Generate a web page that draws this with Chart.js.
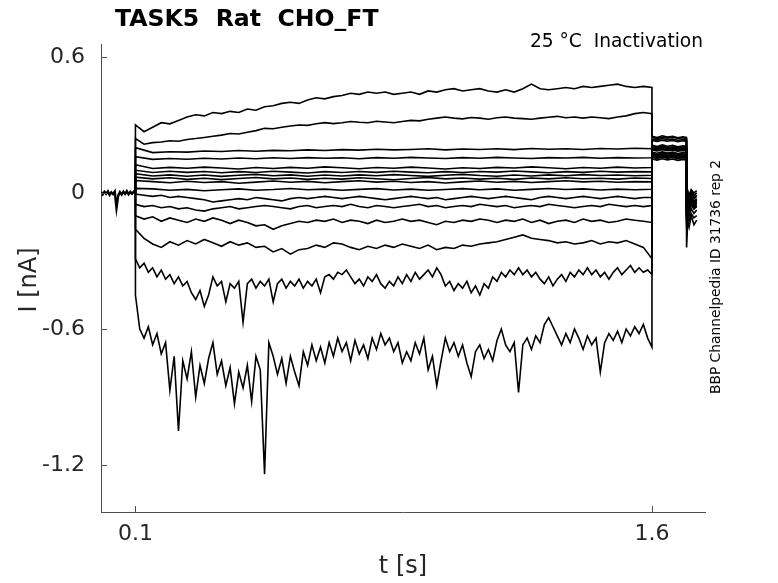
<!DOCTYPE html>
<html>
<head>
<meta charset="utf-8">
<script src="https://cdn.jsdelivr.net/npm/chart.js@4/dist/chart.umd.min.js"></script>
<style>
  html, body { margin: 0; padding: 0; background: #fff; }
  #wrap { width: 778px; height: 583px; }
</style>
</head>
<body>
<div id="wrap"><canvas id="chart" width="778" height="583"></canvas></div>
<script>
// ---- data (current in nA) ----
const xTicks = [0.1, 1.6];
const yTicks = [-1.2, -0.6, 0, 0.6];

// holding period before the step, 0 .. 0.1 s every 5 ms
const holdValues = [0.004, -0.006, 0.005, -0.004, 0.007, -0.008, 0.003, -0.005, 0.006, -0.066,
  -0.012, 0.004, -0.007, 0.006, -0.004, 0.008, -0.006, 0.005, -0.003, 0.006, 0.0];

// step sweeps, 0.1 .. 1.6 s (coarse = 50 ms, mid = 25 ms, fine = 12.5 ms sampling)
const sweepA = [0.30, 0.27, 0.29, 0.31, 0.305, 0.32, 0.335, 0.345, 0.34, 0.355,
  0.35, 0.36, 0.355, 0.37, 0.365, 0.38, 0.385, 0.395, 0.40, 0.395,
  0.41, 0.42, 0.415, 0.425, 0.43, 0.44, 0.435, 0.445, 0.44, 0.445,
  0.435, 0.44, 0.445, 0.435, 0.45, 0.445, 0.455, 0.46, 0.45, 0.455,
  0.46, 0.45, 0.445, 0.455, 0.445, 0.46, 0.48, 0.46, 0.455, 0.46,
  0.465, 0.46, 0.47, 0.465, 0.47, 0.475, 0.48, 0.47, 0.465, 0.47, 0.465];
const sweepB = [0.24, 0.215, 0.222, 0.225, 0.23, 0.228, 0.236, 0.24, 0.245, 0.25,
  0.255, 0.262, 0.26, 0.268, 0.275, 0.285, 0.283, 0.29, 0.295, 0.30,
  0.298, 0.305, 0.31, 0.306, 0.31, 0.315, 0.312, 0.31, 0.316, 0.313,
  0.31, 0.315, 0.32, 0.318, 0.325, 0.33, 0.335, 0.33, 0.327, 0.333,
  0.33, 0.325, 0.332, 0.335, 0.33, 0.328, 0.325, 0.33, 0.334, 0.338,
  0.332, 0.335, 0.33, 0.335, 0.332, 0.328, 0.335, 0.34, 0.35, 0.355, 0.35];
const sweepC = [0.20, 0.178, 0.182, 0.18, 0.185, 0.183, 0.187, 0.184, 0.188, 0.186,
  0.19, 0.187, 0.191, 0.189, 0.193, 0.19, 0.192, 0.195, 0.19, 0.194,
  0.192, 0.195, 0.191, 0.196, 0.193, 0.195, 0.192, 0.196, 0.194, 0.197, 0.195];
const sweepD = [0.16, 0.148, 0.152, 0.149, 0.153, 0.15, 0.154, 0.151, 0.155, 0.152,
  0.156, 0.153, 0.155, 0.151, 0.156, 0.153, 0.157, 0.154, 0.152, 0.156,
  0.153, 0.157, 0.154, 0.152, 0.156, 0.154, 0.157, 0.153, 0.156, 0.154, 0.155];
const sweepE = [0.125, 0.108, 0.113, 0.109, 0.114, 0.11, 0.106, 0.112, 0.108, 0.113,
  0.109, 0.115, 0.111, 0.107, 0.112, 0.109, 0.114, 0.11, 0.106, 0.111,
  0.108, 0.113, 0.11, 0.115, 0.111, 0.107, 0.112, 0.109, 0.114, 0.11, 0.112];
const sweepF = [0.1, 0.09, 0.096, 0.091, 0.095, 0.089, 0.094, 0.09, 0.096, 0.092,
  0.088, 0.094, 0.09, 0.095, 0.091, 0.096, 0.092, 0.089, 0.094, 0.09,
  0.095, 0.092, 0.097, 0.093, 0.089, 0.094, 0.091, 0.096, 0.092, 0.094, 0.093];
const sweepG = [0.085, 0.075, 0.08, 0.074, 0.079, 0.073, 0.078, 0.082, 0.076, 0.08,
  0.074, 0.079, 0.075, 0.08, 0.076, 0.081, 0.077, 0.073, 0.078, 0.082,
  0.077, 0.074, 0.079, 0.075, 0.08, 0.076, 0.081, 0.077, 0.079, 0.076, 0.078];
const sweepH = [0.07, 0.062, 0.067, 0.06, 0.065, 0.059, 0.064, 0.068, 0.062, 0.066,
  0.06, 0.065, 0.061, 0.067, 0.063, 0.058, 0.064, 0.068, 0.062, 0.066,
  0.061, 0.065, 0.06, 0.066, 0.062, 0.067, 0.063, 0.065, 0.061, 0.066, 0.064];
const sweepI = [0.055, 0.05, 0.045, 0.052, 0.046, 0.05, 0.043, 0.048, 0.053, 0.047,
  0.051, 0.045, 0.05, 0.054, 0.048, 0.052, 0.046, 0.05, 0.044, 0.049,
  0.053, 0.047, 0.051, 0.046, 0.05, 0.054, 0.049, 0.052, 0.047, 0.05, 0.049];
const sweepJ = [0.02, 0.018, 0.012, 0.016, 0.01, 0.014, 0.018, 0.012, 0.015, 0.02,
  0.014, 0.017, 0.012, 0.016, 0.019, 0.013, 0.017, 0.012, 0.015, 0.019,
  0.014, 0.018, 0.012, 0.016, 0.02, 0.015, 0.018, 0.013, 0.017, 0.014, 0.016];
const sweepK = [-0.005, -0.01, -0.015, -0.01, -0.02, -0.015, -0.02, -0.025, -0.03, -0.04,
  -0.035, -0.03, -0.025, -0.03, -0.02, -0.025, -0.03, -0.035, -0.025, -0.02,
  -0.025, -0.02, -0.015, -0.02, -0.025, -0.02, -0.015, -0.02, -0.025, -0.03,
  -0.025, -0.02, -0.015, -0.02, -0.025, -0.02, -0.03, -0.025, -0.02, -0.015,
  -0.02, -0.025, -0.02, -0.015, -0.02, -0.025, -0.03, -0.02, -0.015, -0.02,
  -0.025, -0.02, -0.015, -0.02, -0.025, -0.02, -0.015, -0.02, -0.025, -0.02, -0.02];
const sweepL = [-0.05, -0.06, -0.055, -0.065, -0.06, -0.07, -0.065, -0.075, -0.08, -0.07,
  -0.065, -0.06, -0.07, -0.065, -0.06, -0.055, -0.06, -0.065, -0.07, -0.06,
  -0.055, -0.065, -0.06, -0.055, -0.06, -0.05, -0.06, -0.065, -0.055, -0.06,
  -0.065, -0.06, -0.055, -0.05, -0.06, -0.055, -0.065, -0.06, -0.055, -0.06,
  -0.05, -0.055, -0.06, -0.055, -0.065, -0.06, -0.055, -0.06, -0.05, -0.055,
  -0.06, -0.065, -0.06, -0.055, -0.06, -0.05, -0.055, -0.06, -0.055, -0.06, -0.055];
const sweepM = [-0.10, -0.115, -0.105, -0.125, -0.11, -0.12, -0.13, -0.115, -0.125, -0.11,
  -0.12, -0.135, -0.12, -0.13, -0.145, -0.14, -0.16, -0.145, -0.135, -0.125,
  -0.13, -0.12, -0.125, -0.115, -0.13, -0.12, -0.125, -0.135, -0.12, -0.13,
  -0.125, -0.115, -0.125, -0.12, -0.13, -0.14, -0.125, -0.13, -0.12, -0.125,
  -0.115, -0.12, -0.13, -0.12, -0.125, -0.115, -0.13, -0.12, -0.135, -0.125,
  -0.12, -0.13, -0.115, -0.125, -0.12, -0.13, -0.125, -0.115, -0.12, -0.125, -0.13];
const sweepN = [-0.16, -0.20, -0.225, -0.24, -0.215, -0.23, -0.21, -0.225, -0.205, -0.22,
  -0.235, -0.215, -0.23, -0.22, -0.24, -0.235, -0.26, -0.245, -0.27, -0.25,
  -0.245, -0.23, -0.24, -0.22, -0.225, -0.24, -0.25, -0.235, -0.245, -0.23,
  -0.24, -0.225, -0.235, -0.245, -0.23, -0.25, -0.24, -0.245, -0.23, -0.235,
  -0.225, -0.22, -0.215, -0.205, -0.195, -0.185, -0.2, -0.205, -0.21, -0.22,
  -0.215, -0.225, -0.22, -0.21, -0.225, -0.215, -0.22, -0.21, -0.225, -0.24, -0.29];
const sweepO = [-0.29, -0.33, -0.31, -0.35, -0.33, -0.37, -0.34, -0.38, -0.36, -0.40,
  -0.37, -0.41, -0.39, -0.44, -0.47, -0.43, -0.50, -0.45, -0.37, -0.41,
  -0.39, -0.48, -0.40, -0.42, -0.39, -0.57, -0.40, -0.38, -0.42, -0.39,
  -0.41, -0.38, -0.48, -0.40, -0.38, -0.42, -0.39, -0.41, -0.38, -0.42,
  -0.39, -0.41, -0.38, -0.44, -0.37, -0.36, -0.38, -0.35, -0.36, -0.34,
  -0.37, -0.40, -0.38, -0.41, -0.37, -0.39, -0.36, -0.40, -0.42, -0.39,
  -0.41, -0.37, -0.40, -0.36, -0.39, -0.35, -0.38, -0.36, -0.34, -0.37,
  -0.33, -0.36, -0.41, -0.39, -0.43, -0.40, -0.42, -0.39, -0.44, -0.41,
  -0.45, -0.40, -0.42, -0.37, -0.39, -0.35, -0.37, -0.34, -0.36, -0.33,
  -0.36, -0.34, -0.37, -0.35, -0.38, -0.40, -0.37, -0.41, -0.38, -0.36,
  -0.39, -0.35, -0.37, -0.34, -0.36, -0.33, -0.36, -0.34, -0.37, -0.35,
  -0.38, -0.35, -0.33, -0.36, -0.34, -0.32, -0.35, -0.33, -0.35, -0.34, -0.36];
const sweepP = [-0.45, -0.60, -0.64, -0.59, -0.67, -0.62, -0.71, -0.66, -0.87, -0.72,
  -1.05, -0.74, -0.82, -0.70, -0.90, -0.76, -0.84, -0.73, -0.66, -0.80,
  -0.74, -0.85, -0.77, -0.93, -0.79, -0.86, -0.76, -0.92, -0.72, -0.78,
  -1.24, -0.66, -0.72, -0.80, -0.73, -0.84, -0.72, -0.79, -0.85, -0.70,
  -0.76, -0.67, -0.74, -0.68, -0.75, -0.66, -0.72, -0.64, -0.70, -0.66,
  -0.74, -0.65, -0.71, -0.67, -0.73, -0.64, -0.69, -0.62, -0.67, -0.64,
  -0.70, -0.66, -0.75, -0.70, -0.74, -0.66, -0.71, -0.64, -0.78, -0.72,
  -0.85, -0.74, -0.64, -0.70, -0.66, -0.72, -0.67, -0.75, -0.81, -0.70,
  -0.67, -0.73, -0.69, -0.74, -0.65, -0.60, -0.67, -0.70, -0.66, -0.88,
  -0.67, -0.64, -0.69, -0.63, -0.66, -0.58, -0.55, -0.59, -0.63, -0.67,
  -0.62, -0.66, -0.60, -0.64, -0.69, -0.63, -0.67, -0.64, -0.79, -0.66,
  -0.62, -0.65, -0.61, -0.66, -0.60, -0.63, -0.59, -0.62, -0.58, -0.64, -0.68];

// tail after the step: test level up to 1.7 s, then return to holding
const tailTimes = [1.6, 1.615, 1.63, 1.645, 1.66, 1.675, 1.69, 1.7, 1.7005, 1.704, 1.708, 1.714, 1.722, 1.73];
const tailValues = [
  [0.25, 0.245, 0.252, 0.247, 0.25, 0.243, 0.248, 0.245, -0.04, 0.01, -0.01, 0.015, 0.0, 0.01],
  [0.245, 0.24, 0.247, 0.242, 0.246, 0.24, 0.244, 0.24, -0.05, 0.0, -0.02, 0.01, -0.01, 0.0],
  [0.238, 0.233, 0.24, 0.235, 0.238, 0.232, 0.236, 0.233, -0.06, -0.01, -0.03, 0.0, -0.02, -0.01],
  [0.232, 0.227, 0.233, 0.228, 0.232, 0.226, 0.23, 0.227, -0.07, -0.02, -0.035, -0.01, -0.025, -0.015],
  [0.21, 0.205, 0.212, 0.206, 0.21, 0.204, 0.208, 0.205, -0.08, -0.03, -0.045, -0.02, -0.035, -0.025],
  [0.205, 0.2, 0.206, 0.2, 0.204, 0.199, 0.203, 0.2, -0.09, -0.035, -0.05, -0.025, -0.04, -0.03],
  [0.2, 0.195, 0.201, 0.196, 0.2, 0.194, 0.198, 0.195, -0.085, -0.03, -0.05, -0.02, -0.04, -0.03],
  [0.195, 0.19, 0.196, 0.191, 0.195, 0.189, 0.193, 0.19, -0.1, -0.045, -0.06, -0.035, -0.05, -0.04],
  [0.19, 0.185, 0.191, 0.186, 0.19, 0.184, 0.188, 0.185, -0.095, -0.04, -0.055, -0.03, -0.045, -0.035],
  [0.18, 0.175, 0.181, 0.176, 0.18, 0.174, 0.178, 0.175, -0.11, -0.055, -0.07, -0.045, -0.06, -0.05],
  [0.175, 0.17, 0.176, 0.171, 0.175, 0.169, 0.173, 0.17, -0.1, -0.05, -0.065, -0.04, -0.055, -0.045],
  [0.17, 0.165, 0.171, 0.166, 0.17, 0.164, 0.168, 0.165, -0.12, -0.065, -0.08, -0.055, -0.07, -0.06],
  [0.165, 0.16, 0.166, 0.161, 0.165, 0.159, 0.163, 0.16, -0.12, -0.06, -0.08, -0.05, -0.07, -0.055],
  [0.16, 0.155, 0.161, 0.156, 0.16, 0.154, 0.158, 0.155, -0.14, -0.08, -0.1, -0.07, -0.09, -0.075],
  [0.157, 0.152, 0.158, 0.153, 0.157, 0.151, 0.155, 0.152, -0.16, -0.1, -0.12, -0.09, -0.11, -0.1],
  [0.15, 0.145, 0.151, 0.146, 0.15, 0.144, 0.148, 0.145, -0.24, -0.12, -0.15, -0.1, -0.14, -0.12]
];

const titleText = "TASK5  Rat  CHO_FT";
const conditionText = "25 °C  Inactivation";
const sourceText = "BBP Channelpedia ID 31736 rep 2";

// ---- sample clocks ----
function sampleTimes(start, step, count) {
  const out = [];
  for (let i = 0; i < count; i++) out.push(+(start + i * step).toFixed(5));
  return out;
}
const holdTimes = sampleTimes(0, 0.005, 21);
const coarseTimes = sampleTimes(0.1, 0.05, 31);
const midTimes = sampleTimes(0.1, 0.025, 61);
const fineTimes = sampleTimes(0.1, 0.0125, 121);

const sweeps = [
  [midTimes, sweepA], [midTimes, sweepB], [coarseTimes, sweepC], [coarseTimes, sweepD],
  [coarseTimes, sweepE], [coarseTimes, sweepF], [coarseTimes, sweepG], [coarseTimes, sweepH],
  [coarseTimes, sweepI], [coarseTimes, sweepJ], [midTimes, sweepK], [midTimes, sweepL],
  [midTimes, sweepM], [midTimes, sweepN], [fineTimes, sweepO], [fineTimes, sweepP]
];

const holdEnd = holdValues[holdValues.length - 1];
const datasets = [{
  data: holdTimes.map((t, i) => ({ x: t, y: holdValues[i] })),
  borderColor: "#000", borderWidth: 2.4, pointRadius: 0
}];
sweeps.forEach(([times, values], k) => {
  const pts = [{ x: 0.1, y: holdEnd }];
  times.forEach((t, i) => pts.push({ x: t, y: values[i] }));
  tailTimes.forEach((t, i) => pts.push({ x: t, y: tailValues[k][i] }));
  datasets.push({ data: pts, borderColor: "#000", borderWidth: 1.6, pointRadius: 0 });
});

const axisColor = "#4d4d4d";
const textColor = "#262626";
const fontFamily = '"DejaVu Sans", sans-serif';

const decorations = {
  id: "decorations",
  afterDraw(chart) {
    const { ctx, chartArea, scales } = chart;
    ctx.save();
    ctx.strokeStyle = axisColor;
    ctx.lineWidth = 1;
    yTicks.forEach(v => {
      const py = Math.round(scales.y.getPixelForValue(v)) + 0.5;
      ctx.beginPath();
      ctx.moveTo(chartArea.left, py);
      ctx.lineTo(chartArea.left + 6, py);
      ctx.stroke();
    });
    xTicks.forEach(v => {
      const px = Math.round(scales.x.getPixelForValue(v)) + 0.5;
      ctx.beginPath();
      ctx.moveTo(px, chartArea.bottom);
      ctx.lineTo(px, chartArea.bottom - 6);
      ctx.stroke();
    });

    ctx.fillStyle = "#000";
    ctx.textBaseline = "alphabetic";
    ctx.textAlign = "left";
    ctx.font = "bold 23.6px " + fontFamily;
    ctx.fillText(titleText, 115, 26);

    ctx.textAlign = "right";
    ctx.font = "18.6px " + fontFamily;
    ctx.fillText(conditionText, 703, 47);

    ctx.fillStyle = textColor;
    ctx.textAlign = "center";
    ctx.textBaseline = "middle";
    ctx.font = "24px " + fontFamily;
    ctx.fillText("t [s]", 403, 567);

    ctx.save();
    ctx.translate(30, 280);
    ctx.rotate(-Math.PI / 2);
    ctx.fillText("I [nA]", 0, 0);
    ctx.restore();

    ctx.save();
    ctx.fillStyle = "#000";
    ctx.font = "13.8px " + fontFamily;
    ctx.translate(716, 277);
    ctx.rotate(-Math.PI / 2);
    ctx.fillText(sourceText, 0, 0);
    ctx.restore();

    ctx.restore();
  }
};

new Chart(document.getElementById("chart"), {
  type: "line",
  data: { datasets },
  options: {
    responsive: false,
    animation: false,
    devicePixelRatio: 1,
    parsing: false,
    layout: { padding: { left: 0, right: 73, top: 44, bottom: 0 } },
    elements: { line: { tension: 0 } },
    plugins: { legend: { display: false }, tooltip: { enabled: false } },
    scales: {
      x: {
        type: "linear",
        min: 0,
        max: 1.754,
        afterBuildTicks: s => { s.ticks = xTicks.map(v => ({ value: v })); },
        afterFit: s => { s.height = 71; },
        grid: { drawOnChartArea: false, drawTicks: false },
        border: { color: axisColor, width: 1 },
        ticks: {
          color: textColor, padding: 9,
          font: { family: fontFamily, size: 22 },
          callback: v => String(v)
        }
      },
      y: {
        type: "linear",
        min: -1.407,
        max: 0.657,
        afterBuildTicks: s => { s.ticks = yTicks.map(v => ({ value: v })); },
        afterFit: s => { s.width = 101; },
        grid: { drawOnChartArea: false, drawTicks: false },
        border: { color: axisColor, width: 1 },
        ticks: {
          color: textColor, padding: 16,
          font: { family: fontFamily, size: 22 },
          callback: v => String(v)
        }
      }
    }
  },
  plugins: [decorations]
});
</script>
</body>
</html>
